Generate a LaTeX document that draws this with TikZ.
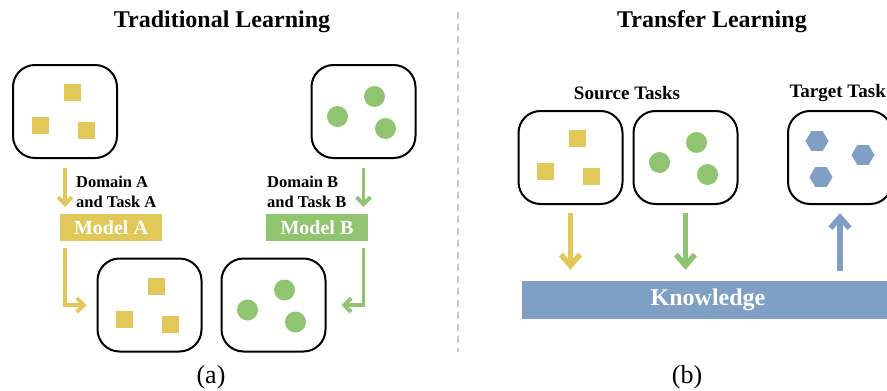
\documentclass[tikz,border=0pt]{standalone}
\usepackage{fontspec}
\setmainfont{Liberation Serif}
\usetikzlibrary{
    arrows.meta,
    positioning,
    shapes.geometric,
    calc
}
\definecolor{TaskYellow}{RGB}{226,200,88}
\definecolor{TaskGreen}{RGB}{145,196,112}
\definecolor{TaskBlue}{RGB}{128,159,197}
\definecolor{SepGray}{RGB}{200,200,200}

\begin{document}
\begin{tikzpicture}[
    x=1pt, y=-1pt,
    >={Straight Barb[length=7pt,width=14pt]},
    taskbox/.style={draw, line width=2pt, rounded corners=22pt,
        minimum width=104pt, minimum height=93pt},
    itemsq/.style={fill=TaskYellow, minimum size=17pt, inner sep=0pt},
    itemdot/.style={circle, fill=TaskGreen, minimum size=21pt, inner sep=0pt},
    itemhex/.style={regular polygon, regular polygon sides=6,
        fill=TaskBlue, minimum size=23pt, inner sep=0pt},
    modelbox/.style={minimum width=102pt, minimum height=27pt, inner sep=0pt,
        text=white, font=\bfseries\fontsize{20}{22}\selectfont},
    labeltext/.style={align=left, inner sep=0pt,
        font=\bfseries\fontsize{16.5}{20}\selectfont},
    title/.style={font=\bfseries\fontsize{24}{28}\selectfont},
    subtitle/.style={font=\bfseries\fontsize{19}{22}\selectfont},
    thinflow/.style={->, line width=3.8pt},
    thickflow/.style={-{Straight Barb[length=11pt,width=19pt]}, line width=5.5pt}
]

\useasboundingbox (0,0) rectangle (887,391);

\node[title] (tradTitle) at (222,22) {Traditional Learning};
\node[title] (transTitle) at (712,22) {Transfer Learning};

\coordinate (sepTop) at (458,12);
\coordinate (sepBot) at (458,352);
\draw[SepGray, line width=1.5pt, dash pattern=on 7pt off 5pt]
    (sepTop) -- (sepBot);

\node[taskbox] (boxA1) at (65,111.5) {};
\node[taskbox] (boxB1) at (363.5,111.5) {};
\node[taskbox] (boxA2) at (149.5,305) {};
\node[taskbox] (boxB2) at (273.5,305) {};
\node[taskbox] (src1) at (570.5,157.5) {};
\node[taskbox] (src2) at (685.5,157.5) {};
\node[taskbox] (tgt) at (840,157.5) {};

\foreach \b in {boxA1,boxA2,src1}{
    \foreach \dx/\dy [count=\i] in {7/-19,-25/14,21/19}
        \node[itemsq] (\b-\i) at ($(\b)+(\dx,\dy)$) {};
}
\foreach \b in {boxB1,boxB2,src2}{
    \foreach \dx/\dy [count=\i] in {11/-15,-26/5,22/17}
        \node[itemdot] (\b-\i) at ($(\b)+(\dx,\dy)$) {};
}
\foreach \dx/\dy [count=\i] in {-23/-16.5,23/-2.5,-19/19.5}
    \node[itemhex] (tgt-\i) at ($(tgt)+(\dx,\dy)$) {};

\node[modelbox, fill=TaskYellow] (modelA) at (111,227.5) {Model A};
\node[modelbox, fill=TaskGreen] (modelB) at (317,227.5) {Model B};

\node[labeltext, anchor=west] (domA) at (76,192) {Domain A\\and Task A};
\node[labeltext, anchor=west] (domB) at (267,192) {Domain B\\and Task B};

\draw[thinflow, TaskYellow, shorten <=9pt, shorten >=7pt]
    (boxA1.south) -- (boxA1.south |- modelA.north);
\draw[thinflow, TaskGreen, shorten <=9pt, shorten >=7pt]
    (boxB1.south) -- (boxB1.south |- modelB.north);

\draw[thinflow, TaskYellow, shorten >=10pt]
    ($(boxA1.south |- modelA.south)+(0,7)$) |- (boxA2.west);
\draw[thinflow, TaskGreen, shorten >=15pt]
    ($(boxB1.south |- modelB.south)+(0,7)$) |- (boxB2.east);

\node[subtitle] (srcTitle) at (627,93) {Source Tasks};
\node[subtitle, anchor=east, inner xsep=1pt] (tgtTitle) at (887,93) {Target Task};

\node[fill=TaskBlue, minimum width=372pt, minimum height=38pt, text=white,
    font=\bfseries\fontsize{24}{28}\selectfont]
    (knowledge) at (708,300) {Knowledge};

\draw[thickflow, TaskYellow, shorten <=8pt, shorten >=11pt]
    (src1.south) -- (src1.south |- knowledge.north);
\draw[thickflow, TaskGreen, shorten <=8pt, shorten >=11pt]
    (src2.south) -- (src2.south |- knowledge.north);
\draw[thickflow, TaskBlue, shorten <=10pt, shorten >=8pt]
    (tgt.south |- knowledge.north) -- (tgt.south);

\node[font=\fontsize{26}{30}\selectfont] (capA) at (211,377) {(a)};
\node[font=\fontsize{26}{30}\selectfont] (capB) at (687,377) {(b)};

\end{tikzpicture}
\end{document}
